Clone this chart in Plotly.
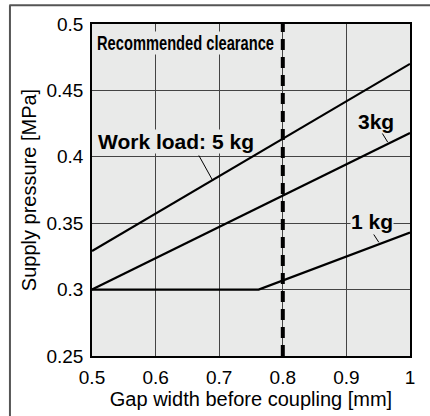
import plotly.graph_objects as go

gap_mm = [0.5, 1.0]
load_5kg = [0.329, 0.470]
load_3kg = [0.300, 0.418]
gap_1kg = [0.5, 0.762, 1.0]
load_1kg = [0.300, 0.300, 0.343]
recommended_gap = 0.8

x_ticks = [0.5, 0.6, 0.7, 0.8, 0.9, 1.0]
x_tick_labels = ["0.5", "0.6", "0.7", "0.8", "0.9", "1"]
y_ticks = [0.25, 0.3, 0.35, 0.4, 0.45, 0.5]
y_tick_labels = ["0.25", "0.3", "0.35", "0.4", "0.45", "0.5"]

PLOT_BG = "#e9eae9"
FONT = "Liberation Sans, Arial, sans-serif"

fig = go.Figure()
line_style = dict(color="black", width=2.2)
fig.add_trace(go.Scatter(x=gap_mm, y=load_5kg, mode="lines", line=line_style, hoverinfo="skip"))
fig.add_trace(go.Scatter(x=gap_mm, y=load_3kg, mode="lines", line=line_style, hoverinfo="skip"))
fig.add_trace(go.Scatter(x=gap_1kg, y=load_1kg, mode="lines", line=line_style, hoverinfo="skip"))
fig.add_trace(go.Scatter(x=[recommended_gap, recommended_gap], y=[y_ticks[0], y_ticks[-1]],
                         mode="lines", line=dict(color="black", width=4, dash="11px,7px"),
                         hoverinfo="skip"))

# leader lines (data coordinates)
leaders = [
    ([0.668, 0.690], [0.401, 0.382]),
    ([0.956, 0.965], [0.418, 0.411]),
    ([0.943, 0.951], [0.3415, 0.3356]),
]
for lx, ly in leaders:
    fig.add_trace(go.Scatter(x=lx, y=ly, mode="lines", line=dict(color="black", width=1),
                             hoverinfo="skip"))

annos = [
    dict(x=0.506, y=0.4855, text="<b>Recommended clearance</b>", xanchor="left",
         font=dict(family=FONT, size=20, color="black")),
    dict(x=0.508, y=0.4115, text="<b>Work load: 5 kg</b>", xanchor="left",
         font=dict(family=FONT, size=21, color="black")),
    dict(x=0.947, y=0.4263, text="<b>3kg</b>", xanchor="center",
         font=dict(family=FONT, size=21, color="black")),
    dict(x=0.941, y=0.3512, text="<b>1 kg</b>", xanchor="center",
         font=dict(family=FONT, size=21, color="black")),
]
for a in annos:
    fig.add_annotation(xref="x", yref="y", yanchor="middle", showarrow=False,
                       bgcolor=PLOT_BG, borderpad=0, **a)

# outer frame (cropped)
fig.add_shape(type="line", xref="paper", yref="paper", x0=-0.26, x1=1.2, y0=1.0565, y1=1.0565,
              line=dict(color="#555", width=2), layer="above")
fig.add_shape(type="line", xref="paper", yref="paper", x0=-0.258, x1=-0.258, y0=1.0565, y1=-0.3,
              line=dict(color="#555", width=2), layer="above")

fig.update_layout(
    width=430, height=416,
    margin=dict(l=92, r=20, t=24, b=56),
    paper_bgcolor="white", plot_bgcolor=PLOT_BG,
    showlegend=False,
    font=dict(family=FONT, color="black"),
)
fig.update_xaxes(range=[0.5, 1.0], tickvals=x_ticks, ticktext=x_tick_labels,
                 showgrid=True, gridcolor="#444", gridwidth=1,
                 showline=True, linecolor="black", linewidth=1.5, mirror=True,
                 tickfont=dict(size=19), ticks="", ticklabelstandoff=3,
                 title=dict(text="Gap width before coupling [mm]", font=dict(size=20), standoff=2),
                 zeroline=False, fixedrange=True)
fig.update_yaxes(range=[0.25, 0.5], tickvals=y_ticks, ticktext=y_tick_labels,
                 showgrid=True, gridcolor="#444", gridwidth=1,
                 showline=True, linecolor="black", linewidth=1.5, mirror=True,
                 tickfont=dict(size=19), ticks="", ticklabelstandoff=3,
                 title=dict(text="Supply pressure [MPa]", font=dict(size=20), standoff=4),
                 zeroline=False, fixedrange=True)

post = """
document.body.style.margin = '0';
document.documentElement.style.overflow = 'hidden';
function squeeze() {
  document.querySelectorAll('.annotation-text').forEach(function(t) {
    if (t.textContent.indexOf('Recommended') === 0 && !t.getAttribute('data-sq')) {
      var b = t.getBBox();
      t.setAttribute('text-anchor', 'start');
      t.setAttribute('x', String(b.x));
      t.setAttribute('textLength', '177');
      t.setAttribute('lengthAdjust', 'spacingAndGlyphs');
      t.setAttribute('data-sq', '1');
      var g = t.closest('g.annotation');
      if (g) {
        var r = g.querySelector('rect.bg');
        if (r) r.setAttribute('width', '179');
      }
    }
  });
}
var gd = document.getElementById('{plot_id}');
squeeze();
setTimeout(squeeze, 0);
setTimeout(squeeze, 200);
if (gd && gd.on) gd.on('plotly_afterplot', squeeze);
"""

fig.write_html("out.html", config={"displayModeBar": False}, post_script=post)
